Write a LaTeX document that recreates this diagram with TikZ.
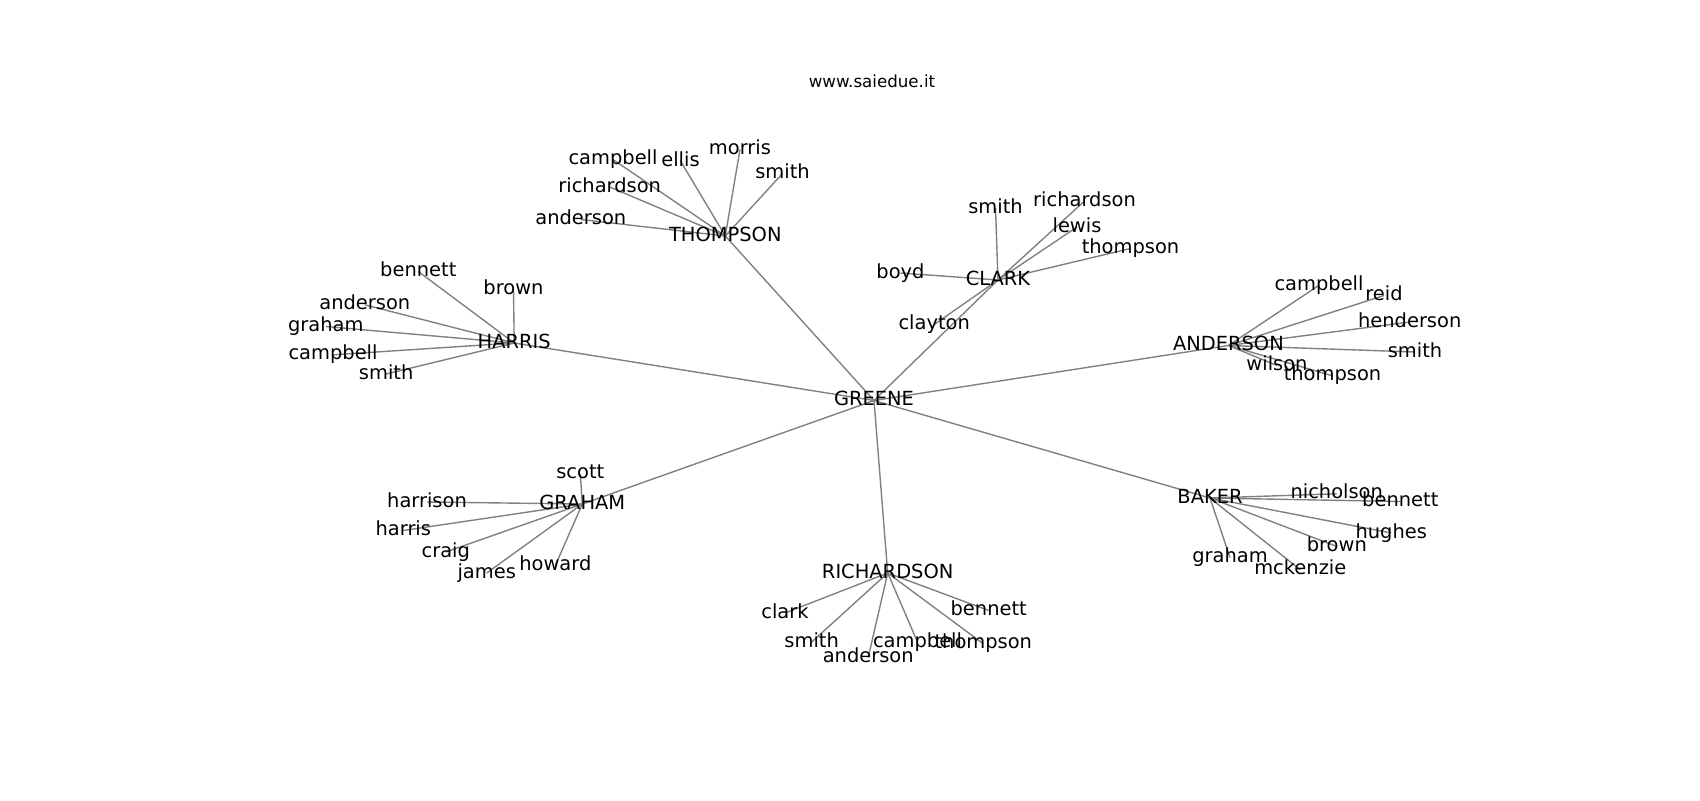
\documentclass[tikz,border=0pt]{standalone}
\usepackage{fontspec}
\setmainfont{DejaVu Sans}
\usetikzlibrary{backgrounds}
\tikzset{
  lbl/.style={inner sep=0pt, font=\fontsize{14}{17}\selectfont, text height=10.64pt, text depth=3.22pt},
  hub/.style={lbl},
  caption/.style={inner sep=0pt, font=\fontsize{12}{14}\selectfont, text height=9.12pt, text depth=2.76pt},
  link/.style={draw=gray, line width=1pt},
}

\begin{document}
\begin{tikzpicture}[x=0.72pt, y=-0.72pt]
  \useasboundingbox (0,0) rectangle (1700,800);
  \node[caption] (title) at (872,83) {www.saiedue.it};

  % centre and the seven families
  \node[hub] (greene) at (874,400.5) {GREENE};
  \node[hub] (thompson) at (725.3,236) {THOMPSON};
  \node[hub] (clark) at (998,280) {CLARK};
  \node[hub] (anderson) at (1228.4,345.5) {ANDERSON};
  \node[hub] (harris) at (514.2,343) {HARRIS};
  \node[hub] (graham) at (582.3,504) {GRAHAM};
  \node[hub] (richardson) at (887.7,573) {RICHARDSON};
  \node[hub] (baker) at (1210,498) {BAKER};

  % thompson
  \node[lbl] (th-campbell) at (613,159.5) {campbell};
  \node[lbl] (th-ellis) at (680.5,161) {ellis};
  \node[lbl] (th-morris) at (740,149.5) {morris};
  \node[lbl] (th-smith) at (782.5,173.5) {smith};
  \node[lbl] (th-richardson) at (609.7,187) {richardson};
  \node[lbl] (th-anderson) at (580.8,219.5) {anderson};

  % clark
  \node[lbl] (cl-smith) at (995.5,208) {smith};
  \node[lbl] (cl-richardson) at (1084.5,201) {richardson};
  \node[lbl] (cl-lewis) at (1077,227) {lewis};
  \node[lbl] (cl-thompson) at (1130.5,248.5) {thompson};
  \node[lbl] (cl-boyd) at (900.5,273) {boyd};
  \node[lbl] (cl-clayton) at (934.2,324.5) {clayton};

  % anderson
  \node[lbl] (an-campbell) at (1319,285.3) {campbell};
  \node[lbl] (an-reid) at (1384,295.5) {reid};
  \node[lbl] (an-henderson) at (1409.7,322) {henderson};
  \node[lbl] (an-smith) at (1415,352) {smith};
  \node[lbl] (an-wilson) at (1277,365.5) {wilson};
  \node[lbl] (an-thompson) at (1332.5,375.8) {thompson};

  % harris
  \node[lbl] (ha-bennett) at (418.3,271.5) {bennett};
  \node[lbl] (ha-brown) at (513.5,289) {brown};
  \node[lbl] (ha-anderson) at (364.8,304.8) {anderson};
  \node[lbl] (ha-graham) at (325.8,326.5) {graham};
  \node[lbl] (ha-campbell) at (333,354.8) {campbell};
  \node[lbl] (ha-smith) at (386.2,374) {smith};

  % graham
  \node[lbl] (gr-scott) at (580.3,473.8) {scott};
  \node[lbl] (gr-harrison) at (427,502) {harrison};
  \node[lbl] (gr-harris) at (403.3,530.5) {harris};
  \node[lbl] (gr-craig) at (445.8,552) {craig};
  \node[lbl] (gr-james) at (486.7,573) {james};
  \node[lbl] (gr-howard) at (555.3,565.5) {howard};

  % richardson
  \node[lbl] (ri-clark) at (785,613) {clark};
  \node[lbl] (ri-smith) at (811.7,642) {smith};
  \node[lbl] (ri-anderson) at (868.2,657.5) {anderson};
  \node[lbl] (ri-campbell) at (917.5,642) {campbell};
  \node[lbl] (ri-bennett) at (988.7,610.5) {bennett};
  \node[lbl] (ri-thompson) at (983.3,643.8) {thompson};

  % baker
  \node[lbl] (ba-nicholson) at (1336.7,493.8) {nicholson};
  \node[lbl] (ba-bennett) at (1400.3,501.5) {bennett};
  \node[lbl] (ba-hughes) at (1391.2,533) {hughes};
  \node[lbl] (ba-brown) at (1336.8,546.5) {brown};
  \node[lbl] (ba-graham) at (1230,557.5) {graham};
  \node[lbl] (ba-mckenzie) at (1300.3,569.8) {mckenzie};

  \begin{scope}[on background layer]
    \draw[link] (greene.center) -- (thompson.center);
    \draw[link] (greene.center) -- (clark.center);
    \draw[link] (greene.center) -- (anderson.center);
    \draw[link] (greene.center) -- (harris.center);
    \draw[link] (greene.center) -- (graham.center);
    \draw[link] (greene.center) -- (richardson.center);
    \draw[link] (greene.center) -- (baker.center);

    \draw[link] (thompson.center) -- (th-campbell.center);
    \draw[link] (thompson.center) -- (th-ellis.center);
    \draw[link] (thompson.center) -- (th-morris.center);
    \draw[link] (thompson.center) -- (th-smith.center);
    \draw[link] (thompson.center) -- (th-richardson.center);
    \draw[link] (thompson.center) -- (th-anderson.center);

    \draw[link] (clark.center) -- (cl-smith.center);
    \draw[link] (clark.center) -- (cl-richardson.center);
    \draw[link] (clark.center) -- (cl-lewis.center);
    \draw[link] (clark.center) -- (cl-thompson.center);
    \draw[link] (clark.center) -- (cl-boyd.center);
    \draw[link] (clark.center) -- (cl-clayton.center);

    \draw[link] (anderson.center) -- (an-campbell.center);
    \draw[link] (anderson.center) -- (an-reid.center);
    \draw[link] (anderson.center) -- (an-henderson.center);
    \draw[link] (anderson.center) -- (an-smith.center);
    \draw[link] (anderson.center) -- (an-wilson.center);
    \draw[link] (anderson.center) -- (an-thompson.center);

    \draw[link] (harris.center) -- (ha-bennett.center);
    \draw[link] (harris.center) -- (ha-brown.center);
    \draw[link] (harris.center) -- (ha-anderson.center);
    \draw[link] (harris.center) -- (ha-graham.center);
    \draw[link] (harris.center) -- (ha-campbell.center);
    \draw[link] (harris.center) -- (ha-smith.center);

    \draw[link] (graham.center) -- (gr-scott.center);
    \draw[link] (graham.center) -- (gr-harrison.center);
    \draw[link] (graham.center) -- (gr-harris.center);
    \draw[link] (graham.center) -- (gr-craig.center);
    \draw[link] (graham.center) -- (gr-james.center);
    \draw[link] (graham.center) -- (gr-howard.center);

    \draw[link] (richardson.center) -- (ri-clark.center);
    \draw[link] (richardson.center) -- (ri-smith.center);
    \draw[link] (richardson.center) -- (ri-anderson.center);
    \draw[link] (richardson.center) -- (ri-campbell.center);
    \draw[link] (richardson.center) -- (ri-bennett.center);
    \draw[link] (richardson.center) -- (ri-thompson.center);

    \draw[link] (baker.center) -- (ba-nicholson.center);
    \draw[link] (baker.center) -- (ba-bennett.center);
    \draw[link] (baker.center) -- (ba-hughes.center);
    \draw[link] (baker.center) -- (ba-brown.center);
    \draw[link] (baker.center) -- (ba-graham.center);
    \draw[link] (baker.center) -- (ba-mckenzie.center);
  \end{scope}
\end{tikzpicture}
\end{document}
